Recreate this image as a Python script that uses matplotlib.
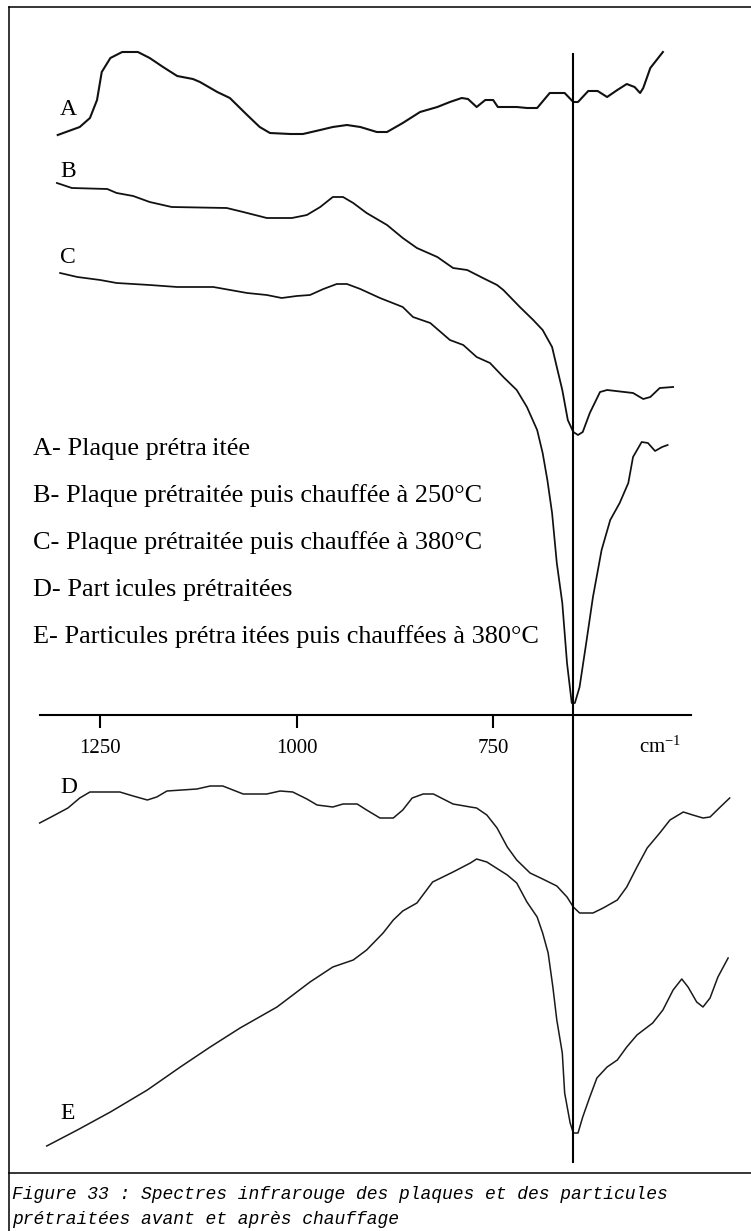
import matplotlib
matplotlib.use("Agg")
import matplotlib.pyplot as plt
from matplotlib.lines import Line2D

plt.rcParams['font.family'] = ['Liberation Serif', 'DejaVu Serif']

# ---------------- data (wavenumber cm-1, relative signal a.u., offset per spectrum) -------------
wn_A = [1304, 1276, 1263, 1254, 1248, 1237, 1222, 1202, 1187, 1170, 1152, 1132, 1123, 1101, 1085,
        1063, 1047, 1034, 1008, 992, 970, 954, 936, 919, 898, 885, 865, 843, 821, 805, 790, 782,
        771, 760, 750, 744, 720, 707, 694, 678, 659, 648, 642, 629, 617, 605, 592, 580, 570, 563,
        559, 550, 542, 534]
sig_A = [135, 127, 118, 100, 72, 58, 52, 52, 58, 67, 76, 79, 82, 92, 98,
         115, 127, 133, 134, 134, 130, 127, 125, 127, 132, 132, 123, 112, 107, 102, 98, 99,
         107, 100, 100, 107, 107, 108, 108, 93, 93, 102, 102, 91, 91, 97, 90, 84, 87, 93,
         88, 68, 60, 52]

wn_B = [1305, 1286, 1241, 1229, 1208, 1187, 1159, 1089, 1068, 1038, 1006, 987, 970, 954, 941,
        928, 911, 885, 865, 847, 821, 801, 783, 763, 745, 737, 716, 699, 687, 675, 669, 662,
        655, 648, 642, 636, 627, 614, 605, 572, 559, 550, 538, 521]
sig_B = [183, 188, 189, 193, 196, 202, 207, 208, 212, 218, 218, 215, 207, 197, 197,
         203, 213, 225, 238, 248, 257, 268, 270, 278, 285, 290, 307, 320, 330, 347, 367, 390,
         420, 432, 435, 432, 413, 392, 390, 393, 399, 397, 388, 387]

wn_C = [1301, 1279, 1250, 1229, 1187, 1152, 1106, 1063, 1038, 1019, 1000, 983, 966, 949, 936,
        919, 894, 865, 852, 830, 805, 788, 771, 754, 737, 720, 707, 694, 687, 681, 675, 669,
        662, 656, 650, 646, 640, 631, 623, 612, 601, 589, 578, 572, 561, 553, 544, 535, 528]
sig_C = [273, 277, 280, 283, 285, 287, 287, 293, 295, 298, 296, 295, 289, 284, 284,
         289, 298, 307, 317, 323, 340, 345, 357, 363, 377, 390, 407, 430, 453, 480, 513, 563,
         603, 663, 703, 703, 687, 640, 597, 550, 520, 503, 483, 457, 442, 443, 451, 447, 445]

wn_D = [1327, 1310, 1291, 1276, 1263, 1225, 1208, 1190, 1178, 1165, 1127, 1110, 1094, 1068, 1038,
        1021, 1005, 987, 974, 954, 941, 923, 911, 894, 877, 865, 853, 839, 826, 801, 779, 771,
        758, 745, 732, 720, 703, 687, 669, 656, 648, 640, 623, 610, 592, 580, 567, 554, 538,
        525, 508, 496, 483, 474, 461, 449]
sig_D = [823, 816, 808, 798, 792, 792, 796, 800, 797, 791, 789, 786, 786, 794, 794,
         791, 792, 799, 805, 807, 804, 804, 810, 818, 818, 810, 798, 794, 794, 804, 807, 808,
         815, 828, 847, 860, 873, 879, 886, 897, 907, 913, 913, 908, 900, 887, 867, 848, 833,
         820, 812, 815, 818, 817, 807, 798]

wn_E = [1318, 1279, 1237, 1190, 1148, 1110, 1072, 1025, 983, 954, 928, 911, 890, 877, 865,
        847, 827, 801, 779, 771, 758, 732, 720, 707, 694, 687, 680, 674, 669, 662, 659, 652,
        648, 642, 636, 627, 618, 605, 592, 580, 567, 547, 534, 521, 510, 502, 491, 483, 474,
        464, 451]
sig_E = [1146, 1130, 1112, 1090, 1067, 1047, 1028, 1007, 982, 967, 960, 950, 933, 920, 911,
         903, 882, 872, 863, 859, 862, 875, 883, 902, 917, 933, 953, 987, 1020, 1053, 1093, 1123,
         1133, 1133, 1117, 1097, 1078, 1067, 1060, 1047, 1035, 1023, 1010, 990, 979, 987, 1002, 1007, 998,
         977, 958]

series_names = ["A", "B", "C", "D", "E"]
legend_lines = [
    "A- Plaque prétra\u2009itée",
    "B- Plaque prétraitée puis chauffée à 250°C",
    "C- Plaque prétraitée puis chauffée à 380°C",
    "D- Part\u2009icules prétraitées",
    "E- Particules prétra\u2009itées puis chauffées à 380°C",
]
tick_values = [1250, 1000, 750]
tick_labels = ["1250", "1000", "750"]
marker_wn = 648          # vertical reference band
axis_level = 715         # signal level where the wavenumber axis is drawn
caption = ["Figure 33 : Spectres infrarouge des plaques et des particules",
           "prétraitées avant et après chauffage"]

# ---------------- figure ----------------
W, H = 751, 1231
fig = plt.figure(figsize=(W / 100, H / 100), dpi=100)
ax = fig.add_axes([0, 0, 1, 1])
ax.patch.set_alpha(0)
ax.set_xlim(1377.45, 421.9)
ax.set_ylim(H, 0)

for s in ["top", "left", "right"]:
    ax.spines[s].set_visible(False)
ax.spines["bottom"].set_position(("data", axis_level))
ax.spines["bottom"].set_bounds(1327, 498)
ax.spines["bottom"].set_linewidth(1.5)
ax.set_xticks(tick_values)
ax.set_xticklabels(tick_labels, fontsize=15)
ax.tick_params(axis="x", direction="out", length=9, width=1.5, pad=8)
ax.set_yticks([])

curves = [(wn_A, sig_A, 1.5, "#111111"),
          (wn_B, sig_B, 1.3, "#111111"),
          (wn_C, sig_C, 1.25, "#111111"),
          (wn_D, sig_D, 1.1, "#1a1a1a"),
          (wn_E, sig_E, 1.1, "#1a1a1a")]
for x, y, lw, c in curves:
    ax.plot(x, y, color=c, lw=lw, solid_joinstyle="round")

ax.vlines(marker_wn, 53, 1163, color="black", lw=1.5)

ax.text(537.7, 747, r"$\mathregular{cm^{-1}}$", fontsize=15, ha="center", va="center")

# curve labels
label_pos = [(60, 115), (60, 177), (60, 263), (60, 793), (60, 1119)]
for name, (px, py) in zip(series_names, label_pos):
    fig.text(px / W, 1 - py / H, name, fontsize=17, ha="left", va="baseline")

# legend block
for i, line in enumerate(legend_lines):
    by = 455 + i * 47
    fig.text(33 / W, 1 - by / H, line, fontsize=18.9, ha="left", va="baseline")

# frame
lx = 9 / W
fig.add_artist(Line2D([lx, lx], [0, 1 - 7 / H], transform=fig.transFigure, color="black", lw=1.1))
fig.add_artist(Line2D([lx, 1.01], [1 - 7 / H, 1 - 7 / H], transform=fig.transFigure, color="black", lw=1.1))
fig.add_artist(Line2D([lx, 1.01], [1 - 1173 / H, 1 - 1173 / H], transform=fig.transFigure, color="black", lw=1.1))

# caption
for i, line in enumerate(caption):
    fig.text(12 / W, 1 - (1199 + i * 25) / H, line, family=["Liberation Mono", "DejaVu Sans Mono"],
             style="italic", fontsize=13, ha="left", va="baseline")

fig.savefig("out.png", dpi=100)
